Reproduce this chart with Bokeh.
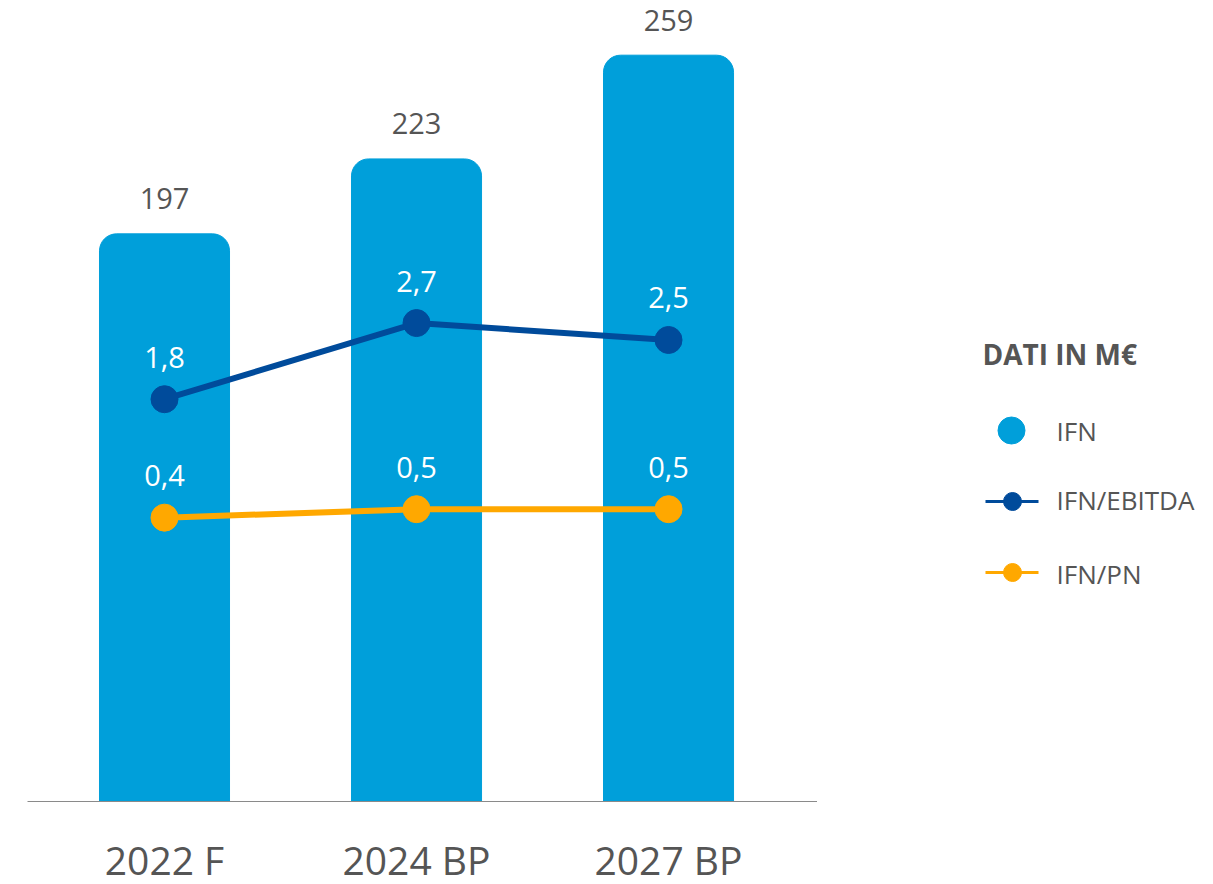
from bokeh.plotting import figure
from bokeh.layouts import row
from bokeh.models import Range1d, FixedTicker, ColumnDataSource
from bokeh.core.properties import value
from bokeh.embed import file_html
from bokeh.resources import INLINE

# ---- data ----
categories = ["2022 F", "2024 BP", "2027 BP"]
ifn = [197, 223, 259]
ifn_ebitda = [1.8, 2.7, 2.5]
ifn_pn = [0.4, 0.5, 0.5]
ifn_ebitda_labels = ["1,8", "2,7", "2,5"]
ifn_pn_labels = ["0,4", "0,5", "0,5"]

BAR = "#009FDA"
DARK = "#004B9B"
ORANGE = "#FFA800"
GREY = "#555555"
FONT = "Open Sans"

xs = list(range(len(categories)))
src = ColumnDataSource(dict(x=xs, ifn=ifn, ifn_lab=[str(v) for v in ifn],
                            eb=ifn_ebitda, eb_lab=ifn_ebitda_labels,
                            pn=ifn_pn, pn_lab=ifn_pn_labels))

p = figure(frame_width=790, frame_height=793, output_backend="svg", toolbar_location=None,
           x_range=Range1d(-0.5437, 2.5912), y_range=Range1d(0, 275.2),
           min_border_left=27, min_border_right=0, min_border_top=8, min_border_bottom=0,
           background_fill_color="white", border_fill_color="white")
p.extra_y_ranges = {"ratio": Range1d(-2.955, 6.418)}
p.outline_line_color = None
p.grid.visible = False
p.yaxis.visible = False

p.xaxis.ticker = FixedTicker(ticks=xs)
p.xaxis.major_label_overrides = {i: c for i, c in zip(xs, categories)}
p.xaxis.major_tick_line_color = None
p.xaxis.minor_tick_line_color = None
p.xaxis.axis_line_color = "#8a8a8a"
p.xaxis.axis_line_width = 1
p.xaxis.major_label_text_font = FONT
p.xaxis.major_label_text_font_size = "39px"
p.xaxis.major_label_text_color = GREY
p.xaxis.major_label_standoff = 25

p.vbar(x="x", top="ifn", bottom=0, width=0.516, source=src, color=BAR,
       border_radius=(17, 17, 0, 0))

p.text(x="x", y="ifn", text="ifn_lab", source=src, y_offset=-35,
       text_align="center", text_baseline="middle", text_font=value(FONT),
       text_font_size="29px", text_color=GREY)

p.line(x="x", y="eb", source=src, y_range_name="ratio", line_color=DARK, line_width=6)
p.scatter(x="x", y="eb", source=src, y_range_name="ratio", size=27, color=DARK)
p.line(x="x", y="pn", source=src, y_range_name="ratio", line_color=ORANGE, line_width=6)
p.scatter(x="x", y="pn", source=src, y_range_name="ratio", size=27, color=ORANGE)

p.text(x="x", y="eb", text="eb_lab", source=src, y_range_name="ratio", y_offset=-42,
       text_align="center", text_baseline="middle", text_font=value(FONT),
       text_font_size="29px", text_color="white")
p.text(x="x", y="pn", text="pn_lab", source=src, y_range_name="ratio", y_offset=-42,
       text_align="center", text_baseline="middle", text_font=value(FONT),
       text_font_size="29px", text_color="white")

# ---- legend panel (page-pixel coordinates) ----
lg = figure(frame_width=388, frame_height=801, output_backend="svg", toolbar_location=None,
            x_range=Range1d(817, 1205), y_range=Range1d(809, 8),
            min_border=0, background_fill_color="white", border_fill_color="white")
lg.outline_line_color = None
lg.grid.visible = False
lg.axis.visible = False

lg.text(x=[982], y=[353], text=["DATI IN M€"], text_align="left", text_baseline="middle",
        text_font=value(FONT), text_font_size="28px", text_font_style="bold", text_color=GREY)
lg.scatter(x=[1011], y=[430], size=27, color=BAR)
lg.segment(x0=[985, 985], y0=[501, 572], x1=[1038, 1038], y1=[501, 572],
           line_color=[DARK, ORANGE], line_width=3)
lg.scatter(x=[1012, 1012], y=[501, 572], size=18, color=[DARK, ORANGE])
lg.text(x=[1056, 1056, 1056], y=[430, 499, 573], text=["IFN", "IFN/EBITDA", "IFN/PN"],
        text_align="left", text_baseline="middle", text_font=value(FONT),
        text_font_size="26px", text_color=GREY)

layout = row(p, lg, spacing=0)
open("out.html", "w").write(file_html(layout, INLINE))
